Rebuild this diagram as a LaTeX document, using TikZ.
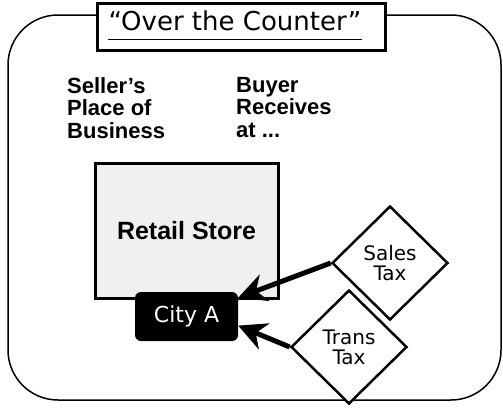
\documentclass[tikz,border=0pt]{standalone}
\usepackage{fontspec}
\newfontfamily\verd{DejaVu Sans}
\newfontfamily\arl{Liberation Sans}
\usetikzlibrary{shapes.geometric,arrows.meta}

\begin{document}
\begin{tikzpicture}[x=1pt,y=-1pt,
  frame/.style={draw, line width=1.5pt, rounded corners=50pt,
    minimum width=493pt, minimum height=385pt},
  titlebox/.style={draw, line width=3pt, fill=white,
    minimum width=288pt, minimum height=47pt},
  heading/.style={font=\arl\bfseries\fontsize{22}{22.5}\selectfont,
    align=left, inner sep=0pt, anchor=north west},
  store/.style={draw, line width=3pt, fill=black!6,
    minimum width=183pt, minimum height=135pt,
    font=\arl\bfseries\fontsize{25}{25}\selectfont},
  city/.style={fill=black, rounded corners=6pt, minimum width=103pt,
    minimum height=49pt, inner sep=0pt, text=white,
    font=\verd\fontsize{22}{22}\selectfont},
  tax/.style={diamond, draw, line width=2.5pt, fill=white, aspect=1,
    inner sep=0pt, minimum width=116pt, minimum height=114pt,
    align=center, font=\verd\fontsize{20}{20}\selectfont},
  taxarrow/.style={line width=5pt,
    -{Stealth[length=28pt,width=28pt,inset=9pt]}}
]
\useasboundingbox (0,0) rectangle (503,410);

% outer frame and title
\node[frame] (frame) at (254.5,207.5) {};
\node[titlebox] (titlebox) at (241,27) {};
\node[font=\verd\fontsize{26}{26}\selectfont, inner sep=0pt, anchor=base]
  (title) at (235,30.5) {“Over the Counter”};
\draw[line width=1.3pt] ([yshift=-9pt]title.base west) -- ([yshift=-9pt]title.base east);

% column headings
\node[heading] (seller) at (67,77) {Seller’s\\Place of\\Business};
\node[heading] (buyer) at (236,77) {Buyer\\Receives\\at ...};

% store and location
\node[store] (store) at (186.5,230.5) {Retail Store};
\node[city] (city) at (186.5,316.5) {City A};

% taxes
\node[tax] (sales) at (390,263) {Sales\\Tax};
\node[tax] (trans) at (349,347) {Trans\\Tax};

\draw[taxarrow] (sales.west) -- (city.20);
\draw[taxarrow] (trans.west) -- (city.-10);
\end{tikzpicture}
\end{document}
